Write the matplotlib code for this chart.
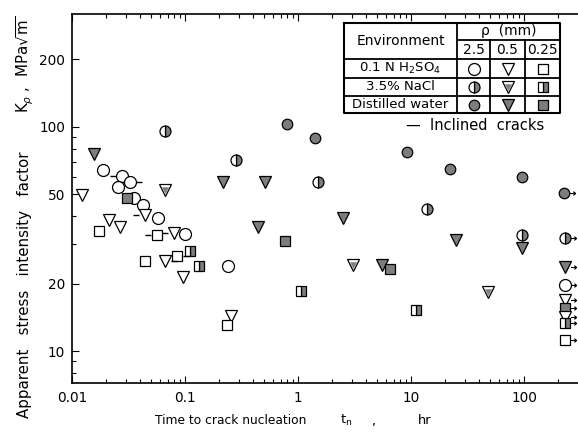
import matplotlib
matplotlib.use("Agg")
import matplotlib.pyplot as plt
from matplotlib.path import Path
from matplotlib.ticker import FixedLocator, FixedFormatter, NullFormatter

# ---------------- data (t in hr, Kp in MPa*sqrt(m)) ----------------
# 0.1 N H2SO4
h2so4_r25_t = [0.0187, 0.0277, 0.0328, 0.0254, 0.0351, 0.0425, 0.0577, 0.0993, 0.242]
h2so4_r25_k = [64.3, 60.4, 57.0, 54.1, 48.1, 44.9, 39.1, 33.2, 24.0]
h2so4_r25_inc = [0, -1, 1, 0, 0, 0, 0, 0, 0]

h2so4_r05_t = [0.0123, 0.0446, 0.0211, 0.0268, 0.0794, 0.066, 0.0955, 0.253]
h2so4_r05_k = [49.7, 40.4, 38.5, 35.6, 33.7, 25.3, 21.5, 14.3]
h2so4_r05_inc = [0, -1, 0, 0, -1, 1, 0, 0]

h2so4_r025_t = [0.0175, 0.0565, 0.085, 0.044, 0.234]
h2so4_r025_k = [34.4, 33.0, 26.6, 25.1, 13.1]
h2so4_r025_inc = [0, -1, 1, 0, 0]

# 3.5% NaCl
nacl_r25_t = [0.0666, 0.283, 1.51, 13.8, 95.5]
nacl_r25_k = [96.2, 71.3, 57.0, 42.9, 33.0]

nacl_r05_t = [0.066, 3.08, 48.3]
nacl_r05_k = [52.4, 24.2, 18.4]

nacl_r025_t = [0.111, 0.134, 1.06, 11.1]
nacl_r025_k = [27.9, 23.9, 18.6, 15.3]

# Distilled water
dw_r25_t = [0.794, 1.41, 9.27, 22.1, 95.5]
dw_r25_k = [103.0, 89.0, 77.6, 64.7, 60.0]

dw_r05_t = [0.0156, 0.216, 0.51, 0.446, 2.48, 5.5, 25.0, 95.5]
dw_r05_k = [75.7, 57.0, 57.0, 35.6, 39.1, 24.2, 31.3, 28.7]

dw_r025_t = [0.0307, 0.767, 6.5]
dw_r025_k = [48.1, 31.0, 23.2]

# run-outs (no crack nucleation, arrows)
runout_t = [225, 230, 230, 230, 230, 230, 230, 230, 230]
runout_k = [50.6, 31.8, 23.8, 19.8, 16.9, 15.5, 14.2, 13.3, 11.2]
runout_env = ["dw", "na", "dw", "h", "h", "dw", "h", "na", "h"]
runout_rho = ["2.5", "2.5", "0.5", "2.5", "0.5", "0.25", "0.5", "0.25", "0.25"]

x_major = [0.01, 0.1, 1, 10, 100]
x_major_labels = ["0.01", "0.1", "1", "10", "100"]
y_major = [10, 20, 50, 100, 200]
y_major_labels = ["10", "20", "50", "100", "200"]
y_minor = [8, 9, 30, 40, 60, 70, 80, 90]

env_labels = ["0.1 N H$_2$SO$_4$", "3.5% NaCl", "Distilled water"]
rho_labels = ["2.5", "0.5", "0.25"]

# ---------------- styling helpers ----------------
W, H = 578, 433
GREY = "#7d7d7d"
SHAPE = {"2.5": "o", "0.5": "v", "0.25": "s"}
MS = {"o": 8.6, "v": 8.8, "s": 7.6}

dash_left = Path([(-1.0, 0.0), (-0.55, 0.0)])
dash_right = Path([(1.0, 0.0), (0.55, 0.0)])
arrow_right = Path([(0.5, 0), (1.0, 0), (0.8, 0.17), (1.0, 0), (0.8, -0.17)],
                   [Path.MOVETO, Path.LINETO, Path.MOVETO, Path.LINETO, Path.LINETO])


def draw(ax, x, y, env, rho, **kw):
    shape = SHAPE[rho]
    ms = MS[shape]
    base = dict(ls="none", marker=shape, mec="black", mew=0.9, **kw)
    if env == "h":
        ax.plot(x, y, ms=ms, mfc="white", **base)
    elif env == "na":
        if shape == "v":
            ax.plot(x, y, ms=ms, mfc="white", **base)
            ax.plot(x, y, ls="none", marker="v", ms=ms * 0.52, mfc=GREY,
                    mec=GREY, mew=0.4, **kw)
        else:
            ax.plot(x, y, ms=ms if shape == "s" else ms * 0.92, fillstyle="right",
                    mfc=GREY, mfcalt="white", **base)
    else:
        ax.plot(x, y, ms=ms * (0.88 if shape == "o" else 1.0), mfc=GREY, **base)


def incl(ax, x, y, flags):
    xl = [a for a, f in zip(x, flags) if f < 0]
    yl = [b for b, f in zip(y, flags) if f < 0]
    xr = [a for a, f in zip(x, flags) if f > 0]
    yr = [b for b, f in zip(y, flags) if f > 0]
    ax.plot(xl, yl, ls="none", marker=dash_left, ms=17, mfc="none", mec="black", mew=1.0)
    ax.plot(xr, yr, ls="none", marker=dash_right, ms=17, mfc="none", mec="black", mew=1.0)


# ---------------- figure ----------------
fig = plt.figure(figsize=(W / 100, H / 100), dpi=100)
fig.patch.set_facecolor("white")
ax = fig.add_axes([72 / W, 1 - 383 / H, (W - 72) / W, (383 - 14) / H])
ax.set_xscale("log")
ax.set_yscale("log")
ax.set_xlim(0.01, 300)
ax.set_ylim(7.2, 319)

for s in ["left", "bottom", "top"]:
    ax.spines[s].set_linewidth(1.2)
ax.spines["right"].set_visible(False)

ax.xaxis.set_major_locator(FixedLocator(x_major))
ax.xaxis.set_major_formatter(FixedFormatter(x_major_labels))
ax.xaxis.set_minor_locator(FixedLocator(
    [m * d for d in [0.01, 0.1, 1, 10, 100] for m in range(2, 10) if m * d < 300]))
ax.xaxis.set_minor_formatter(NullFormatter())
ax.yaxis.set_major_locator(FixedLocator(y_major))
ax.yaxis.set_major_formatter(FixedFormatter(y_major_labels))
ax.yaxis.set_minor_locator(FixedLocator(y_minor))
ax.yaxis.set_minor_formatter(NullFormatter())
ax.tick_params(which="both", direction="in", top=True, right=False, width=0.8,
               labelsize=9.8, colors="black")
ax.tick_params(which="major", length=5)
ax.tick_params(which="minor", length=3)
ax.tick_params(axis="x", pad=6)
ax.tick_params(axis="y", pad=5)

# data points
draw(ax, h2so4_r25_t, h2so4_r25_k, "h", "2.5")
draw(ax, h2so4_r05_t, h2so4_r05_k, "h", "0.5")
draw(ax, h2so4_r025_t, h2so4_r025_k, "h", "0.25")
draw(ax, nacl_r25_t, nacl_r25_k, "na", "2.5")
draw(ax, nacl_r05_t, nacl_r05_k, "na", "0.5")
draw(ax, nacl_r025_t, nacl_r025_k, "na", "0.25")
draw(ax, dw_r25_t, dw_r25_k, "dw", "2.5")
draw(ax, dw_r05_t, dw_r05_k, "dw", "0.5")
draw(ax, dw_r025_t, dw_r025_k, "dw", "0.25")
incl(ax, h2so4_r25_t, h2so4_r25_k, h2so4_r25_inc)
incl(ax, h2so4_r05_t, h2so4_r05_k, h2so4_r05_inc)
incl(ax, h2so4_r025_t, h2so4_r025_k, h2so4_r025_inc)

for t, k, e, r in zip(runout_t, runout_k, runout_env, runout_rho):
    draw(ax, [t], [k], e, r, clip_on=False)
ax.plot(runout_t, runout_k, ls="none", marker=arrow_right, ms=16, mfc="none",
        mec="black", mew=0.8, clip_on=False)

# ---------------- overlay in pixel coordinates (legend table, labels) ----------------
ov = fig.add_axes([0, 0, 1, 1], zorder=5)
ov.set_xlim(0, W)
ov.set_ylim(H, 0)
ov.axis("off")
ov.patch.set_alpha(0)

L, R, T, B = 344, 560, 23, 113
c1, c2, c3 = 457, 490, 525
r1, r2, r3, r4 = 40, 59, 78, 96
lw = 1.3
ov.plot([L, R, R, L, L], [T, T, B, B, T], color="black", lw=1.5)
ov.plot([c1, R], [r1, r1], color="black", lw=lw)
for r in [r2, r3, r4]:
    ov.plot([L, R], [r, r], color="black", lw=lw)
ov.plot([c1, c1], [T, B], color="black", lw=lw)
for c in [c2, c3]:
    ov.plot([c, c], [r1, B], color="black", lw=lw)

fs = 10
ov.text((L + c1) / 2, (T + r2) / 2, "Environment", ha="center", va="center", fontsize=fs)
ov.text((c1 + R) / 2, (T + r1) / 2, "ρ  (mm)", ha="center", va="center", fontsize=fs)
cols = [(c1 + c2) / 2, (c2 + c3) / 2, (c3 + R) / 2]
for cx, lab in zip(cols, rho_labels):
    ov.text(cx, (r1 + r2) / 2 + 0.5, lab, ha="center", va="center", fontsize=fs)
rows = [(r2 + r3) / 2, (r3 + r4) / 2, (r4 + B) / 2]
for ry, lab in zip(rows, env_labels):
    ov.text((L + c1) / 2, ry, lab, ha="center", va="center", fontsize=9.5)
for ry, e in zip(rows, ["h", "na", "dw"]):
    for cx, r in zip(cols, rho_labels):
        draw(ov, [cx], [ry], e, r)

ov.text(475, 126, "—  Inclined  cracks", ha="center", va="center", fontsize=10.5)

# axis titles
ov.text(25, 418, "Apparent   stress   intensity   factor", rotation=90,
        ha="center", va="bottom", fontsize=10.8)
ov.text(25, 16, "K$_\\rho$ ,  MPa$\\sqrt{\\rm m}$", rotation=90,
        ha="center", va="top", fontsize=10.8)
ov.text(155, 420, "Time to crack nucleation", ha="left", va="center", fontsize=8.8)
ov.text(346, 420, "t$_{\\rm n}$", ha="center", va="center", fontsize=9.4)
ov.text(373, 422, ",", ha="center", va="center", fontsize=9.4)
ov.text(425, 420, "hr", ha="center", va="center", fontsize=9.4)

fig.savefig("out.png", dpi=100, facecolor="white")
